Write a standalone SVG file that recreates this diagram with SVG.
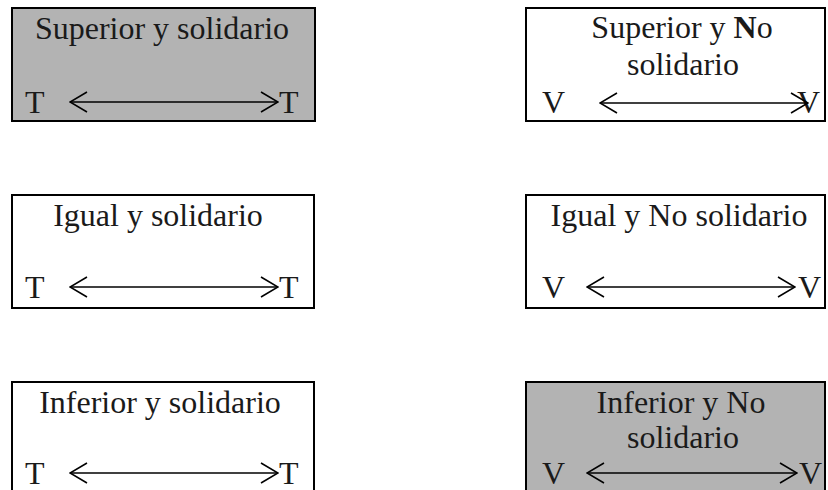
<svg xmlns="http://www.w3.org/2000/svg" width="828" height="490" viewBox="0 0 828 490">
<style>
.box{stroke:#000;stroke-width:2}
.gray{fill:#b3b3b3}
.white{fill:#fff}
.lbl{font-family:'Liberation Serif','DejaVu Serif',serif;font-size:32px;fill:#1a1a1a}
.c{text-anchor:middle}
.arrow{stroke:#000;stroke-width:1.6;fill:none;marker-start:url(#head);marker-end:url(#head)}
</style>
<defs>
<marker id="head" viewBox="0 0 19 22" refX="18" refY="11" markerWidth="19" markerHeight="22" markerUnits="userSpaceOnUse" orient="auto-start-reverse">
<path d="M1,1 L18,11 L1,21" fill="none" stroke="#000" stroke-width="1.6"/>
</marker>
</defs>
<rect width="828" height="490" fill="#fff"/>
<g id="superior-solidario">
<rect class="box gray" x="12" y="8" width="303" height="113"/>
<text class="lbl c" x="162" y="39">Superior y solidario</text>
<text class="lbl" x="25" y="113">T</text>
<text class="lbl" x="279" y="113">T</text>
</g>
<g id="superior-no-solidario">
<rect class="box white" x="526" y="8" width="299" height="113"/>
<text class="lbl c" x="682" y="38">Superior y <tspan font-weight="bold">N</tspan>o</text>
<text class="lbl c" x="683" y="75">solidario</text>
<text class="lbl" x="542" y="113">V</text>
<text class="lbl" x="797" y="113">V</text>
</g>
<g id="igual-solidario">
<rect class="box white" x="12" y="195" width="302" height="113"/>
<text class="lbl c" x="158" y="226">Igual y solidario</text>
<text class="lbl" x="25" y="298">T</text>
<text class="lbl" x="279" y="298">T</text>
</g>
<g id="igual-no-solidario">
<rect class="box white" x="526" y="195" width="299" height="113"/>
<text class="lbl c" x="679" y="226">Igual y No solidario</text>
<text class="lbl" x="542" y="298">V</text>
<text class="lbl" x="798" y="298">V</text>
</g>
<g id="inferior-solidario">
<rect class="box white" x="12" y="382" width="302" height="120"/>
<text class="lbl c" x="160" y="413">Inferior y solidario</text>
<text class="lbl" x="25" y="484">T</text>
<text class="lbl" x="279" y="484">T</text>
</g>
<g id="inferior-no-solidario">
<rect class="box gray" x="526" y="382" width="299" height="120"/>
<text class="lbl c" x="681" y="413">Inferior y No</text>
<text class="lbl c" x="683" y="448">solidario</text>
<text class="lbl" x="542" y="484">V</text>
<text class="lbl" x="799" y="484">V</text>
</g>
<g id="connectors">
<line class="arrow" x1="70" y1="102" x2="278" y2="102"/>
<line class="arrow" x1="600" y1="103" x2="808" y2="103"/>
<line class="arrow" x1="70" y1="287" x2="278" y2="287"/>
<line class="arrow" x1="587" y1="287" x2="795" y2="287"/>
<line class="arrow" x1="70" y1="473" x2="278" y2="473"/>
<line class="arrow" x1="587" y1="473" x2="797" y2="473"/>
</g>
</svg>
